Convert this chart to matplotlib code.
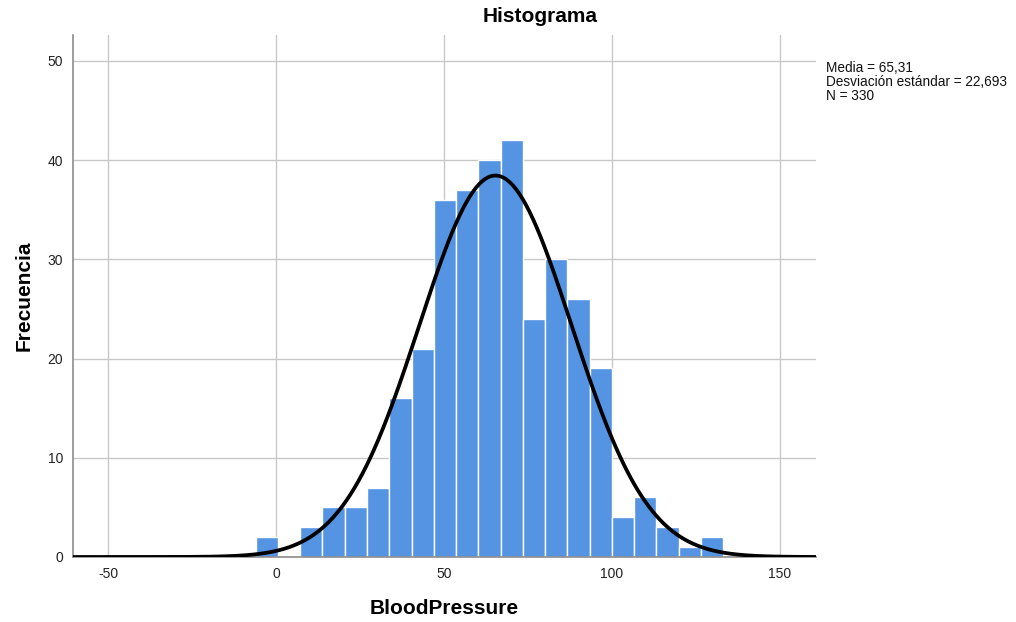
import numpy as np
import matplotlib.pyplot as plt

plt.rcParams['font.family'] = ['Liberation Sans', 'DejaVu Sans']
plt.rcParams['axes.unicode_minus'] = False

# Histogram counts per bin (BloodPressure)
bin_start = -6.05
bin_width = 6.626
counts = [2, 0, 3, 5, 5, 7, 16, 21, 36, 37, 40, 42, 24, 30, 26, 19, 4, 6, 3, 1, 2]

# Summary statistics
media = 65.31
desv = 22.693
n_obs = 330

x_ticks = [-50, 0, 50, 100, 150]
y_ticks = [0, 10, 20, 30, 40, 50]

edges = bin_start + bin_width * np.arange(len(counts) + 1)

fig = plt.figure(figsize=(10.16, 6.22), dpi=100)
ax = fig.add_axes([73 / 1016, 1 - 557 / 622, (816 - 73) / 1016, (557 - 35) / 622])

ax.bar(edges[:-1], counts, width=bin_width, align='edge',
       color='#5594e2', edgecolor='white', linewidth=1.0, zorder=2)

# Normal curve scaled to the histogram
xs = np.linspace(-60.4, 160.7, 600)
ys = n_obs * bin_width * np.exp(-0.5 * ((xs - media) / desv) ** 2) / (desv * np.sqrt(2 * np.pi))
ax.plot(xs, ys, color='black', linewidth=2.7, zorder=3, solid_capstyle='butt')

ax.set_xlim(-60.4, 160.7)
ax.set_ylim(0, 52.6)
ax.set_xticks(x_ticks)
ax.set_yticks(y_ticks)
ax.tick_params(length=0, labelsize=10, labelcolor='#222222', pad=7)
ax.grid(True, color='#c8c8c8', linewidth=1.0, zorder=0)
ax.set_axisbelow(True)
for s in ['top', 'right']:
    ax.spines[s].set_visible(False)
for s in ['left', 'bottom']:
    ax.spines[s].set_color('#8c8c8c')
    ax.spines[s].set_linewidth(1.2)

ax.set_xlabel('BloodPressure', fontsize=15, fontweight='bold', labelpad=13)
ax.set_ylabel('Frecuencia', fontsize=15, fontweight='bold', labelpad=10)

fig.text(540 / 1016, 1 - 17 / 622, 'Histograma', fontsize=15, fontweight='bold',
         ha='center', va='center')

stats = (f"Media = {media:.2f}".replace('.', ',') + "\n"
         + f"Desviación estándar = {desv:.3f}".replace('.', ',') + "\n"
         + f"N = {n_obs}")
fig.text(826 / 1016, 1 - 61 / 622, stats, fontsize=9.8, ha='left', va='top',
         linespacing=1.02, color='#111111')

fig.savefig('out.png', dpi=100)
